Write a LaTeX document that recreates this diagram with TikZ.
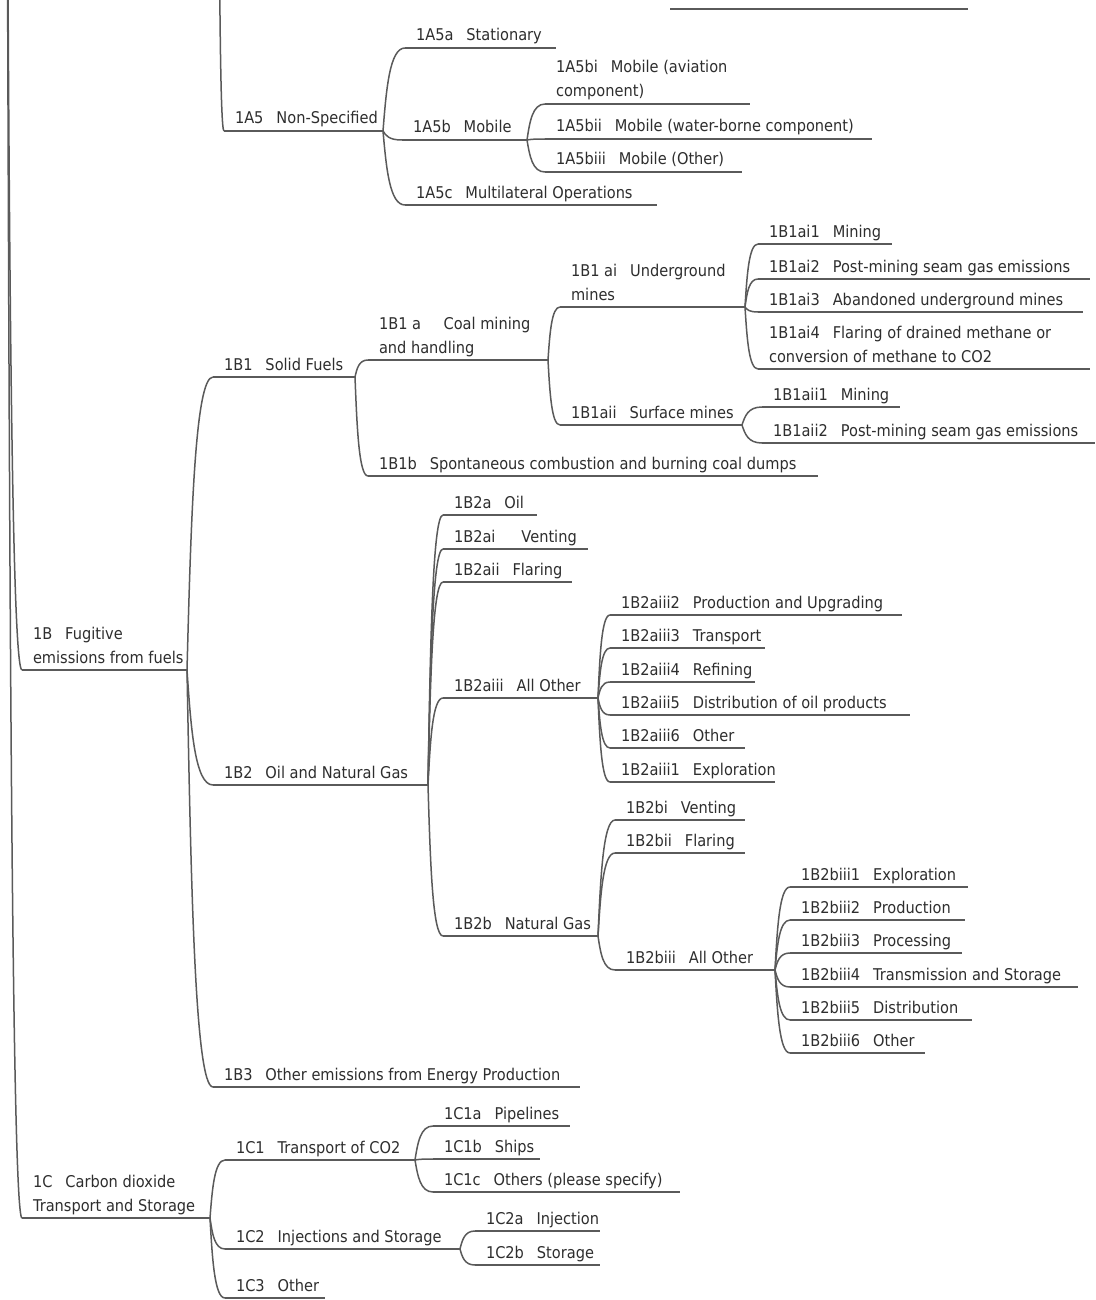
\documentclass[tikz,border=0pt]{standalone}
\usepackage{fontspec}
\setmainfont{DejaVu Sans}[FakeStretch=0.9]
\usetikzlibrary{calc}
\definecolor{txt}{HTML}{2E2E2E}
\definecolor{ln}{HTML}{5A5A5A}
\newcommand{\gp}{\hspace{0.8em}}
% name, x0, x1, y of underline, text
\newcommand{\mmnode}[5]{%
  \coordinate (#1-l) at (#2,#4);
  \coordinate (#1-r) at (#3,#4);
  \node[lbl] (#1) at ({#2+11},{#4-3}) {#5};
  \draw[uline] (#1-l) -- (#1-r);
}
\begin{document}
\begin{tikzpicture}[x=1pt,y=-1pt,
  lbl/.style={anchor=south west, inner sep=0pt, outer sep=0pt, align=left,
    text depth=4pt, text=txt, font=\fontsize{16.2}{24}\selectfont},
  uline/.style={draw=ln, line width=1.6pt},
  link/.style={draw=ln, line width=1.5pt,
    to path={let \p1=(\tikztostart), \p2=(\tikztotarget) in
      .. controls ({\x1+0.15*(\x2-\x1)},{\y1+0.5*(\y2-\y1)}) and ({\x1+0.3*(\x2-\x1)},\y2) .. (\tikztotarget)}}]
\useasboundingbox[fill=white] (0,0) rectangle (1095,1300);

% off-picture parents
\coordinate (root) at (7,-200);
\coordinate (ja) at (219,-120);
\coordinate (tl1) at (670,9);
\coordinate (tl2) at (968,9);
\draw[uline] (tl1) -- (tl2);

% 1A5
\mmnode{a5}{224}{383}{131}{1A5\gp Non-Specified}
\mmnode{a5a}{405}{556}{48}{1A5a\gp Stationary}
\mmnode{a5b}{402}{527}{140}{1A5b\gp Mobile}
\mmnode{a5c}{405}{657}{205}{1A5c\gp Multilateral Operations}
\mmnode{a5bi}{545}{750}{104}{1A5bi\gp Mobile (aviation\\component)}
\mmnode{a5bii}{545}{872}{139}{1A5bii\gp Mobile (water-borne component)}
\mmnode{a5biii}{545}{742}{172}{1A5biii\gp Mobile (Other)}

% 1B
\mmnode{b}{22}{187}{670}{1B\gp Fugitive\\emissions from fuels}
\mmnode{b1}{213}{355}{377}{1B1\gp Solid Fuels}
\mmnode{b1a}{368}{548}{360}{1B1 a\gp\hspace{0.3em} Coal mining\\and handling}
\mmnode{b1ai}{560}{745}{307}{1B1 ai\gp Underground\\mines}
\mmnode{b1ai1}{758}{892}{244}{1B1ai1\gp Mining}
\mmnode{b1ai2}{758}{1090}{279}{1B1ai2\gp Post-mining seam gas emissions}
\mmnode{b1ai3}{758}{1083}{312}{1B1ai3\gp Abandoned underground mines}
\mmnode{b1ai4}{758}{1090}{369}{1B1ai4\gp Flaring of drained methane or\\conversion of methane to CO2}
\mmnode{b1aii}{560}{742}{425}{1B1aii\gp Surface mines}
\mmnode{b1aii1}{762}{900}{407}{1B1aii1\gp Mining}
\mmnode{b1aii2}{762}{1095}{443}{1B1aii2\gp Post-mining seam gas emissions}
\mmnode{b1b}{368}{818}{476}{1B1b\gp Spontaneous combustion and burning coal dumps}

\mmnode{b2}{213}{428}{785}{1B2\gp Oil and Natural Gas}
\mmnode{b2a}{443}{537}{515}{1B2a\gp Oil}
\mmnode{b2ai}{443}{588}{549}{1B2ai\gp\gp Venting}
\mmnode{b2aii}{443}{572}{582}{1B2aii\gp Flaring}
\mmnode{b2aiii}{443}{598}{698}{1B2aiii\gp All Other}
\mmnode{b2aiii2}{610}{902}{615}{1B2aiii2\gp Production and Upgrading}
\mmnode{b2aiii3}{610}{765}{648}{1B2aiii3\gp Transport}
\mmnode{b2aiii4}{610}{755}{682}{1B2aiii4\gp Refining}
\mmnode{b2aiii5}{610}{910}{715}{1B2aiii5\gp Distribution of oil products}
\mmnode{b2aiii6}{610}{745}{748}{1B2aiii6\gp Other}
\mmnode{b2aiii1}{610}{775}{782}{1B2aiii1\gp Exploration}
\mmnode{b2b}{443}{598}{936}{1B2b\gp Natural Gas}
\mmnode{b2bi}{615}{745}{820}{1B2bi\gp Venting}
\mmnode{b2bii}{615}{745}{853}{1B2bii\gp Flaring}
\mmnode{b2biii}{615}{775}{970}{1B2biii\gp All Other}
\mmnode{b2biii1}{790}{968}{887}{1B2biii1\gp Exploration}
\mmnode{b2biii2}{790}{965}{920}{1B2biii2\gp Production}
\mmnode{b2biii3}{790}{962}{953}{1B2biii3\gp Processing}
\mmnode{b2biii4}{790}{1078}{987}{1B2biii4\gp Transmission and Storage}
\mmnode{b2biii5}{790}{972}{1020}{1B2biii5\gp Distribution}
\mmnode{b2biii6}{790}{925}{1053}{1B2biii6\gp Other}
\mmnode{b3}{213}{580}{1087}{1B3\gp Other emissions from Energy Production}

% 1C
\mmnode{c}{22}{210}{1218}{1C\gp Carbon dioxide\\Transport and Storage}
\mmnode{c1}{225}{415}{1160}{1C1\gp Transport of CO2}
\mmnode{c1a}{433}{570}{1126}{1C1a\gp Pipelines}
\mmnode{c1b}{433}{540}{1159}{1C1b\gp Ships}
\mmnode{c1c}{433}{680}{1192}{1C1c\gp Others (please specify)}
\mmnode{c2}{225}{460}{1249}{1C2\gp Injections and Storage}
\mmnode{c2a}{475}{600}{1231}{1C2a\gp Injection}
\mmnode{c2b}{475}{600}{1265}{1C2b\gp Storage}
\mmnode{c3}{225}{325}{1298}{1C3\gp Other}

% connectors
\draw[link] (root) to (b-l);
\draw[link] (root) to (c-l);
\draw[link] (ja) to (a5-l);
\foreach \k in {a5a,a5b,a5c} \draw[link] (a5-r) to (\k-l);
\foreach \k in {a5bi,a5bii,a5biii} \draw[link] (a5b-r) to (\k-l);
\foreach \k in {b1,b2,b3} \draw[link] (b-r) to (\k-l);
\foreach \k in {b1a,b1b} \draw[link] (b1-r) to (\k-l);
\foreach \k in {b1ai,b1aii} \draw[link] (b1a-r) to (\k-l);
\foreach \k in {b1ai1,b1ai2,b1ai3,b1ai4} \draw[link] (b1ai-r) to (\k-l);
\foreach \k in {b1aii1,b1aii2} \draw[link] (b1aii-r) to (\k-l);
\foreach \k in {b2a,b2ai,b2aii,b2aiii,b2b} \draw[link] (b2-r) to (\k-l);
\foreach \k in {b2aiii2,b2aiii3,b2aiii4,b2aiii5,b2aiii6,b2aiii1} \draw[link] (b2aiii-r) to (\k-l);
\foreach \k in {b2bi,b2bii,b2biii} \draw[link] (b2b-r) to (\k-l);
\foreach \k in {b2biii1,b2biii2,b2biii3,b2biii4,b2biii5,b2biii6} \draw[link] (b2biii-r) to (\k-l);
\foreach \k in {c1,c2,c3} \draw[link] (c-r) to (\k-l);
\foreach \k in {c1a,c1b,c1c} \draw[link] (c1-r) to (\k-l);
\foreach \k in {c2a,c2b} \draw[link] (c2-r) to (\k-l);
\end{tikzpicture}
\end{document}
